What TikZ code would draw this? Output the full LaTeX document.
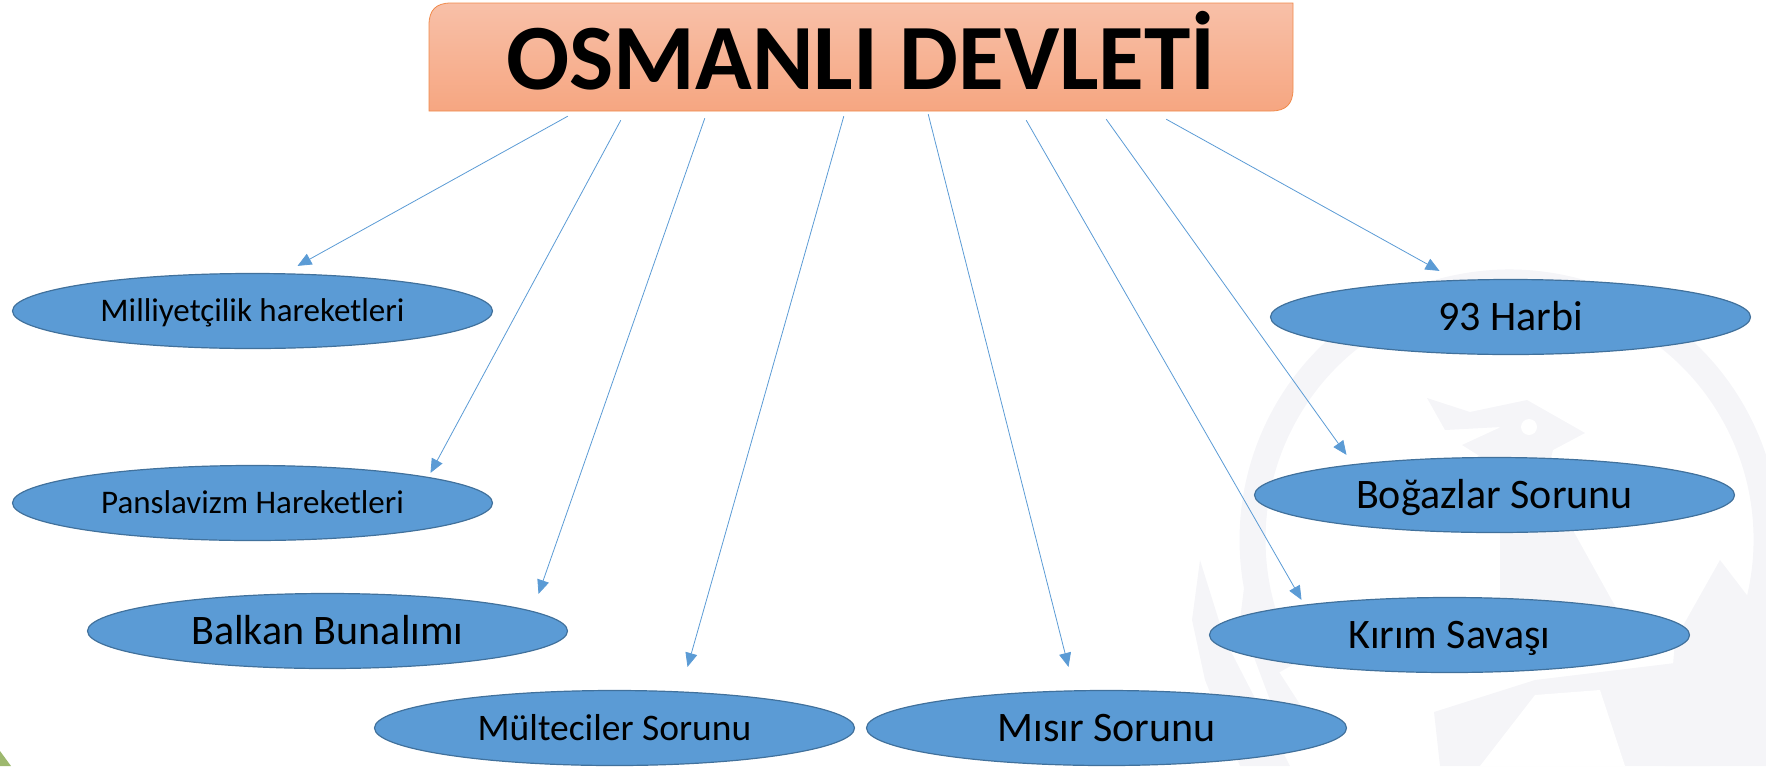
\documentclass[tikz,border=0pt]{standalone}
\usepackage{fontspec}
\setmainfont{Carlito}
\usepackage{xcolor}
\usetikzlibrary{arrows.meta}
\usetikzlibrary{calc}
\usetikzlibrary{shapes.geometric}
\definecolor{konufill}{HTML}{5B9BD5}
\definecolor{konuline}{HTML}{41719C}
\definecolor{filigran}{HTML}{F5F5F8}
\definecolor{titleTop}{HTML}{F8C0A8}
\definecolor{titleBot}{HTML}{F6A681}
\definecolor{titleLine}{HTML}{F08A4B}
\definecolor{kose}{HTML}{9DB86E}
\newcommand\boyut[1]{\fontsize{#1pt}{#1pt}\selectfont}
\tikzstyle{konu}=[ellipse,draw=konuline,fill=konufill,line width=1.2pt,minimum width=480pt,minimum height=75pt,inner sep=0pt,text=black,font=\boyut{#1},text height=.84*#1 pt,text depth=.2*#1 pt]
\tikzstyle{ok}=[konufill,line width=.8pt,-{Triangle[length=14pt,width=12pt]}]
\begin{document}
\begin{tikzpicture}[x=1pt,y=-1pt]
	\useasboundingbox (0,0) rectangle (1766,766);
	% filigran
	\draw[filigran,line width=26pt] (1287,668) arc[start angle=150,end angle=390,radius=257];
	\fill[filigran] (1427,398) -- (1470,412) -- (1527,400) -- (1585,433) -- (1553,450) -- (1545,480) -- (1610,597) -- (1640,650) -- (1500,650) -- (1500,530) -- (1486,460) -- (1462,445) -- (1501,427) -- (1445,430) -- cycle;
	\fill[white] (1529,427) circle (8);
	\fill[filigran] (1200,560) -- (1225,640) -- (1290,766) -- (1240,766) -- (1205,680) -- (1192,620) -- cycle;
	\fill[filigran] (1250,540) -- (1265,650) -- (1310,720) -- (1270,700) -- (1240,620) -- cycle;
	\fill[filigran] (1766,620) -- (1720,560) -- (1675,640) -- (1665,766) -- (1766,766) -- cycle;
	\fill[filigran] (1434,712) -- (1535,680) -- (1700,660) -- (1710,766) -- (1440,766) -- cycle;
	\fill[white] (1535,695) -- (1600,690) -- (1625,766) -- (1480,766) -- cycle;
	\fill[kose] (0,766) -- (0,751) -- (11,766) -- cycle;
	%
	\shade[top color=titleTop,bottom color=titleBot,draw=titleLine,line width=.8pt]
		(429,111) -- (429,25) .. controls (429,10) and (436,3) .. (451,3) -- (1293,3) -- (1293,89) .. controls (1293,104) and (1286,111) .. (1271,111) -- cycle;
	\node[minimum width=864pt,minimum height=120pt,inner sep=0pt,font=\boyut{93.5}\bfseries] (title) at (861,51) {OSMANLI DEVLETİ};
	%
	\node[konu=33] (milli) at (252.5,311) {Milliyetçilik hareketleri};
	\node[konu=33] (pansl) at (252.5,503) {Panslavizm Hareketleri};
	\node[konu=42] (balkan) at (327.5,631) {Balkan Bunalımı};
	\node[konu=37.5] (multeci) at (614.5,728) {Mülteciler Sorunu};
	\node[konu=42] (misir) at (1106.5,728) {Mısır Sorunu};
	\node[konu=42] (kirim) at (1449.5,635) {Kırım Savaşı};
	\node[konu=42] (bogaz) at (1494.5,495) {Boğazlar Sorunu};
	\node[konu=42] (harbi) at (1510.5,317) {93 Harbi};
	%
	\draw[ok] ($(title.south west)+(139,5)$) -- ($(milli.north)+(45,-7)$);
	\draw[ok] ($(title.south west)+(192,9)$) -- ($(pansl.north)+(178,8)$);
	\draw[ok] ($(title.south west)+(276,7)$) -- ($(balkan.north)+(211,1)$);
	\draw[ok] ($(title.south west)+(415,5)$) -- ($(multeci.north)+(73,-23)$);
	\draw[ok] ($(title.south east)+(-365,3)$) -- ($(misir.north)+(-38,-23)$);
	\draw[ok] ($(title.south east)+(-267,9)$) -- ($(kirim.north)+(-148,3)$);
	\draw[ok] ($(title.south east)+(-187,8)$) -- ($(bogaz.north)+(-148,-2)$);
	\draw[ok] ($(title.south east)+(-127,8)$) -- ($(harbi.north)+(-71,-8)$);
\end{tikzpicture}
\end{document}
